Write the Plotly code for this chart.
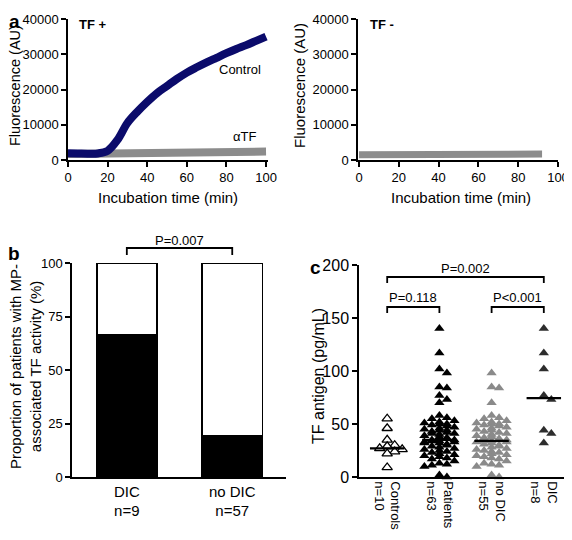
import plotly.graph_objects as go
import numpy as np

# The page body has an 8px margin; the figure is sized to fill the rest of the window.
PAGE_W, PAGE_H, OFF = 572, 540, 8
W, H = PAGE_W - OFF, PAGE_H - OFF
FONT = "Arial, 'Liberation Sans', sans-serif"

# ---------------- Panel a data ----------------
time_ctrl = [0, 5, 10, 15, 20, 25, 30, 35, 40, 45, 50, 55, 60, 65, 70, 75, 80, 85, 90, 95, 100]
control = [1900, 1850, 1800, 1850, 2600, 5700, 10500, 13700, 16500, 19000, 21000, 23000,
           24800, 26300, 27700, 29000, 30300, 31500, 32600, 33800, 35000]
time_atf = [0, 25, 50, 75, 100]
atf = [1700, 1850, 2000, 2200, 2400]
time_tfneg = [0, 46, 92]
tfneg = [1500, 1600, 1700]
a_xticks = [0, 20, 40, 60, 80, 100]
a_yticks = [0, 10000, 20000, 30000, 40000]
a_yticklabels = ["0", "10000", "20000", "30000", "40000"]

# ---------------- Panel b data ----------------
b_cats = ["DIC<br>n=9", "no DIC<br>n=57"]
b_with = [66.7, 19.3]
b_without = [33.3, 80.7]
b_yticks = [0, 25, 50, 75, 100]

# ---------------- Panel c data ----------------
c_cats = ["Controls<br>n=10", "Patients<br>n=63", "no DIC<br>n=55", "DIC<br>n=8"]
controls = [55, 46, 35, 30, 29, 27, 26, 24, 22, 9]
no_dic = [98, 85, 84, 70, 58, 56, 55, 53, 52, 51, 50, 50, 49, 48, 47, 46, 45, 44, 43, 42,
          41, 40, 39, 38, 37, 36, 35, 35, 34, 34, 33, 33, 32, 31, 30, 29, 28, 27, 26, 25,
          24, 23, 22, 21, 20, 19, 18, 17, 15, 13, 12, 11, 10, 2, 0]
dic = [140, 117, 102, 77, 73, 44, 41, 32]
patients = no_dic + dic
c_medians = [27, 35, 34, 74.5]
c_yticks = [0, 50, 100, 150, 200]


def fx(p):
    return (p - OFF) / W


def fy(p):
    return (H - (p - OFF)) / H


def px_domain_x(p0, p1):
    return [fx(p0), min(1.0, fx(p1))]


def px_domain_y(top, bottom):
    return [fy(bottom), fy(top)]


def swarm(values, px_per_y, px_per_x, w=6.5, h=5.5, step=2.5, maxoff=17):
    vals = np.asarray(values, dtype=float)
    order = np.argsort(-vals)
    placed = []
    offs = np.zeros(len(vals))
    cands = [0.0]
    k = 1
    while k * step <= maxoff:
        cands += [k * step, -k * step]
        k += 1
    for i in order:
        y = vals[i] * px_per_y
        best, bestc = None, None
        for o in cands:
            c = sum(1 for (po, py) in placed if abs(po - o) < w and abs(py - y) < h)
            if c == 0:
                best = o
                break
            if bestc is None or c < bestc:
                best, bestc = o, c
        offs[i] = best
        placed.append((best, y))
    return offs / px_per_x


fig = go.Figure()

axis_common = dict(showline=True, linecolor="black", linewidth=1.5, showgrid=False,
                   zeroline=False, ticks="outside", ticklen=5, tickwidth=1.5, automargin=False,
                   tickcolor="black", tickfont=dict(size=13, color="black", family=FONT))

# Panel a left
fig.add_trace(go.Scatter(x=time_atf, y=atf, mode="lines", line=dict(color="rgb(140,140,140)", width=8),
                         xaxis="x", yaxis="y", showlegend=False, hoverinfo="skip"))
fig.add_trace(go.Scatter(x=time_ctrl, y=control, mode="lines", line=dict(color="#0b0b6b", width=8, shape="spline"),
                         xaxis="x", yaxis="y", showlegend=False, hoverinfo="skip"))
# Panel a right
fig.add_trace(go.Scatter(x=time_tfneg, y=tfneg, mode="lines", line=dict(color="rgb(140,140,140)", width=7),
                         xaxis="x2", yaxis="y2", showlegend=False, hoverinfo="skip"))

# Panel b stacked bars
fig.add_trace(go.Bar(x=[0, 1], y=b_with, width=0.57, marker=dict(color="black", line=dict(color="black", width=1.5)),
                     xaxis="x3", yaxis="y3", showlegend=False, hoverinfo="skip"))
fig.add_trace(go.Bar(x=[0, 1], y=b_without, width=0.57, marker=dict(color="white", line=dict(color="black", width=1.5)),
                     xaxis="x3", yaxis="y3", showlegend=False, hoverinfo="skip"))

# Panel c scatter
c_pxx = 52.2
c_pxy = 212 / 200
groups = [
    (controls, dict(color="white", line=dict(color="black", width=1.3))),
    (patients, dict(color="black", line=dict(color="black", width=0))),
    (no_dic, dict(color="rgb(138,138,138)", line=dict(color="rgb(138,138,138)", width=0))),
    (dic, dict(color="rgb(45,45,45)", line=dict(color="rgb(45,45,45)", width=0))),
]
for i, (vals, mk) in enumerate(groups):
    offs = swarm(vals, c_pxy, c_pxx)
    fig.add_trace(go.Scatter(x=i + offs, y=vals, mode="markers",
                             marker=dict(symbol="triangle-up", size=9, **mk),
                             xaxis="x4", yaxis="y4", showlegend=False, hoverinfo="skip", cliponaxis=False))
mx, my = [], []
for i, m in enumerate(c_medians):
    mx += [i - 0.33, i + 0.33, None]
    my += [m, m, None]
fig.add_trace(go.Scatter(x=mx, y=my, mode="lines", line=dict(color="black", width=2.2),
                         xaxis="x4", yaxis="y4", showlegend=False, hoverinfo="skip"))

# brackets panel c (within range)
br = [(0, 3, 188.7, 183.0, "P=0.002", 196.5), (0, 1, 160.4, 154.7, "P=0.118", 169.5),
      (2, 3, 160.4, 154.7, "P<0.001", 169.5)]
bx, by = [], []
annotations = []
for x0, x1, ytop, ybot, txt, ty in br:
    bx += [x0, x0, x1, x1, None]
    by += [ybot, ytop, ytop, ybot, None]
    annotations.append(dict(x=(x0 + x1) / 2, y=ty, xref="x4", yref="y4", text=txt, showarrow=False,
                            xanchor="center", yanchor="middle",
                            font=dict(size=13, color="black", family=FONT)))
fig.add_trace(go.Scatter(x=bx, y=by, mode="lines", line=dict(color="black", width=1.8),
                         xaxis="x4", yaxis="y4", showlegend=False, hoverinfo="skip"))

# bracket panel b (above range -> shape with domain ref)
shapes = [dict(type="path", xref="x3", yref="y3 domain",
               path="M 0,%f L 0,%f L 1,%f L 1,%f" % (1.037, 1.07, 1.07, 1.037),
               line=dict(color="black", width=1.8))]
annotations.append(dict(x=0.5, y=1.107, xref="x3", yref="y3 domain", text="P=0.007", showarrow=False,
                        xanchor="center", yanchor="middle",
                        font=dict(size=13, color="black", family=FONT)))


def pnote(x, y, text, size, angle=0, xanchor="center"):
    return dict(x=fx(x), y=fy(y), xref="paper", yref="paper", text=text, showarrow=False,
                textangle=angle, xanchor=xanchor, yanchor="middle",
                font=dict(size=size, color="black", family=FONT))


annotations += [
    pnote(77, 24, "<b>TF +</b>", 13, xanchor="left"),
    pnote(368, 24, "<b>TF -</b>", 13, xanchor="left"),
    dict(x=87, y=25800, xref="x", yref="y", text="Control", showarrow=False,
         xanchor="center", yanchor="middle", font=dict(size=13, color="black", family=FONT)),
    dict(x=89, y=6800, xref="x", yref="y", text="αTF", showarrow=False,
         xanchor="center", yanchor="middle", font=dict(size=13, color="black", family=FONT)),
    pnote(14, 21, "<b>a</b>", 19),
    pnote(14, 253, "<b>b</b>", 19),
    pnote(315, 267, "<b>c</b>", 19),
    pnote(15, 86, "Fluorescence (AU)", 14.5, angle=-90),
    pnote(300, 86, "Fluorescence (AU)", 15, angle=-90),
    pnote(168, 197, "Incubation time (min)", 15),
    pnote(461, 197, "Incubation time (min)", 15),
    pnote(25, 367, "Proportion of patients with MP-<br>associated TF activity (%)", 15, angle=-90),
    pnote(318, 376, "TF antigen (pg/mL)", 16, angle=-90),
]

fig.update_layout(
    width=W, height=H, margin=dict(l=0, r=0, t=0, b=0, autoexpand=False),
    paper_bgcolor="white", plot_bgcolor="white",
    font=dict(family=FONT, color="black"),
    barmode="stack", showlegend=False,
    xaxis=dict(axis_common, domain=px_domain_x(68, 268), range=[0, 101], tickvals=a_xticks, anchor="y"),
    yaxis=dict(axis_common, domain=px_domain_y(19, 160), range=[0, 40000], tickvals=a_yticks,
               ticktext=a_yticklabels, anchor="x"),
    xaxis2=dict(axis_common, domain=px_domain_x(358, 558), range=[-0.5, 100], tickvals=a_xticks, anchor="y2"),
    yaxis2=dict(axis_common, domain=px_domain_y(19, 160), range=[0, 40000], tickvals=a_yticks,
                ticktext=a_yticklabels, anchor="x2"),
    xaxis3=dict(axis_common, domain=px_domain_x(72, 286), range=[-0.52, 1.51], tickvals=[0, 1],
                ticktext=b_cats, ticks="", tickfont=dict(size=15, color="black", family=FONT), anchor="y3"),
    yaxis3=dict(axis_common, domain=px_domain_y(263, 477), range=[0, 100], tickvals=b_yticks, anchor="x3"),
    xaxis4=dict(axis_common, domain=px_domain_x(359, 572), range=[-0.54, 3.54], tickvals=[0, 1, 2, 3],
                ticktext=c_cats, ticks="", tickangle=90, tickfont=dict(size=13, color="black", family=FONT),
                anchor="y4"),
    yaxis4=dict(axis_common, domain=px_domain_y(265, 477), range=[0, 200], tickvals=c_yticks,
                tickfont=dict(size=16, color="black", family=FONT), anchor="x4"),
    annotations=annotations, shapes=shapes,
)

fig.write_html("out.html")
